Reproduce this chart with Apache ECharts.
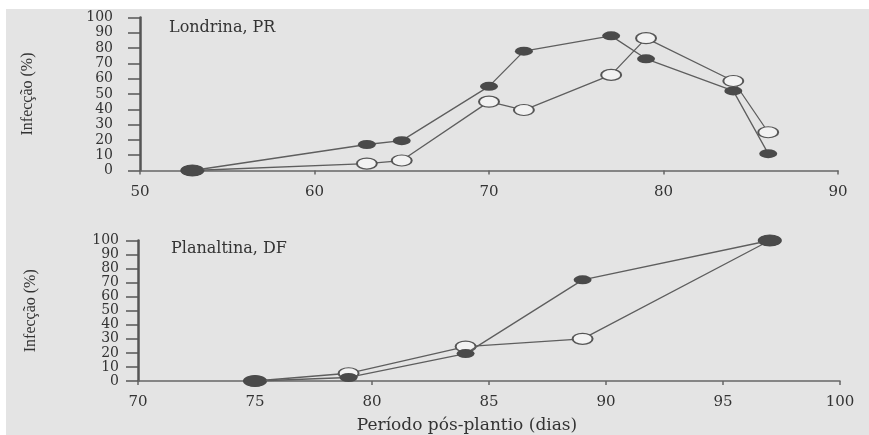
<!DOCTYPE html>
<html>
<head>
<meta charset="utf-8">
<script src="https://cdn.jsdelivr.net/npm/echarts@6/dist/echarts.min.js"></script>
<style>html,body{margin:0;padding:0;background:#fff}#c{width:869px;height:435px}</style>
</head>
<body>
<div id="c"></div>
<script>
// Londrina, PR
const londrinaDays = [53, 63, 65, 70, 72, 77, 79, 84, 86];
const londrinaFilled = [0, 17, 19.5, 55, 78, 88, 73, 52, 11];
const londrinaOpen = [0, 4.5, 6.5, 45, 39.5, 62.5, 86.5, 58.5, 25];
// Planaltina, DF
const planaltinaDays = [75, 79, 84, 89, 97];
const planaltinaFilled = [0, 2.5, 19.5, 72, 100];
const planaltinaOpen = [0, 5.5, 24.5, 30, 100];

const panelTitles = ['Londrina, PR', 'Planaltina, DF'];
const yAxisTitle = 'Infecção (%)';
const xAxisTitle = 'Período pós-plantio (dias)';

const DARK = '#4a4a4a';
const LINE = '#5e5e5e';
const TXT = '#333';
const serif = 'DejaVu Serif';

function openData(xs, ys, filled) {
  return xs.map((x, i) => {
    if (ys[i] === filled[i]) {
      return { value: [x, ys[i]], symbolSize: [22, 11], itemStyle: { color: DARK, borderColor: DARK } };
    }
    return { value: [x, ys[i]] };
  });
}
function filledData(xs, ys, open) {
  return xs.map((x, i) => {
    if (ys[i] === open[i]) return { value: [x, ys[i]], symbolSize: [22, 11] };
    return { value: [x, ys[i]] };
  });
}

const yAxisCommon = (margin, nameGap) => ({
  type: 'value', min: 0, max: 100, interval: 10,
  name: yAxisTitle, nameLocation: 'middle', nameGap: nameGap, nameRotate: 90,
  nameTextStyle: { fontFamily: 'Liberation Serif', fontSize: 16, color: TXT },
  axisLine: { show: true, lineStyle: { color: '#555', width: 2.5 } },
  axisTick: { show: true, length: 12, lineStyle: { color: '#555', width: 1.5 } },
  axisLabel: { margin: margin, fontFamily: serif, fontSize: 14, color: TXT },
  splitLine: { show: false }
});

const xAxisCommon = (min, max, interval) => ({
  type: 'value', min: min, max: max, interval: interval,
  axisLine: { show: true, onZero: false, lineStyle: { color: '#666', width: 1.5 } },
  axisTick: { show: true, length: 4, lineStyle: { color: '#666', width: 1.5 } },
  axisLabel: { margin: 14, fontFamily: serif, fontSize: 15, color: TXT },
  splitLine: { show: false }
});

const chart = echarts.init(document.getElementById('c'));
chart.setOption({
  backgroundColor: '#ffffff',
  animation: false,
  graphic: [{ type: 'rect', shape: { x: 6, y: 9, width: 869, height: 435 }, style: { fill: '#e4e4e4' }, z: -10 }],
  title: [
    { text: panelTitles[0], left: 164, top: 15, textStyle: { fontFamily: serif, fontSize: 16, fontWeight: 'normal', color: TXT } },
    { text: panelTitles[1], left: 166, top: 236, textStyle: { fontFamily: serif, fontSize: 16, fontWeight: 'normal', color: TXT } }
  ],
  grid: [
    { left: 140, right: 31, top: 17.5, height: 153 },
    { left: 138, right: 29, top: 240.5, height: 140.5 }
  ],
  xAxis: [
    Object.assign(xAxisCommon(50, 90, 10), { gridIndex: 0 }),
    Object.assign(xAxisCommon(70, 100, 5), {
      gridIndex: 1, name: xAxisTitle, nameLocation: 'middle', nameGap: 36,
      nameTextStyle: { fontFamily: serif, fontSize: 17, color: TXT, padding: [0, 44, 0, 0] }
    })
  ],
  yAxis: [
    Object.assign(yAxisCommon(27, 104), { gridIndex: 0 }),
    Object.assign(yAxisCommon(19, 99), { gridIndex: 1 })
  ],
  series: [
    { type: 'line', xAxisIndex: 0, yAxisIndex: 0, data: openData(londrinaDays, londrinaOpen, londrinaFilled),
      symbol: 'circle', symbolSize: [20, 11], z: 2,
      lineStyle: { color: LINE, width: 1.3 }, itemStyle: { color: '#f2f2f2', borderColor: '#555', borderWidth: 1.5 } },
    { type: 'line', xAxisIndex: 0, yAxisIndex: 0, data: filledData(londrinaDays, londrinaFilled, londrinaOpen),
      symbol: 'circle', symbolSize: [18, 9], z: 3,
      lineStyle: { color: LINE, width: 1.3 }, itemStyle: { color: DARK, borderColor: DARK, borderWidth: 0 } },
    { type: 'line', xAxisIndex: 1, yAxisIndex: 1, data: openData(planaltinaDays, planaltinaOpen, planaltinaFilled),
      symbol: 'circle', symbolSize: [20, 11], z: 2,
      lineStyle: { color: LINE, width: 1.3 }, itemStyle: { color: '#f2f2f2', borderColor: '#555', borderWidth: 1.5 } },
    { type: 'line', xAxisIndex: 1, yAxisIndex: 1, data: filledData(planaltinaDays, planaltinaFilled, planaltinaOpen),
      symbol: 'circle', symbolSize: [18, 9], z: 3,
      lineStyle: { color: LINE, width: 1.3 }, itemStyle: { color: DARK, borderColor: DARK, borderWidth: 0 } }
  ]
});
</script>
</body>
</html>
